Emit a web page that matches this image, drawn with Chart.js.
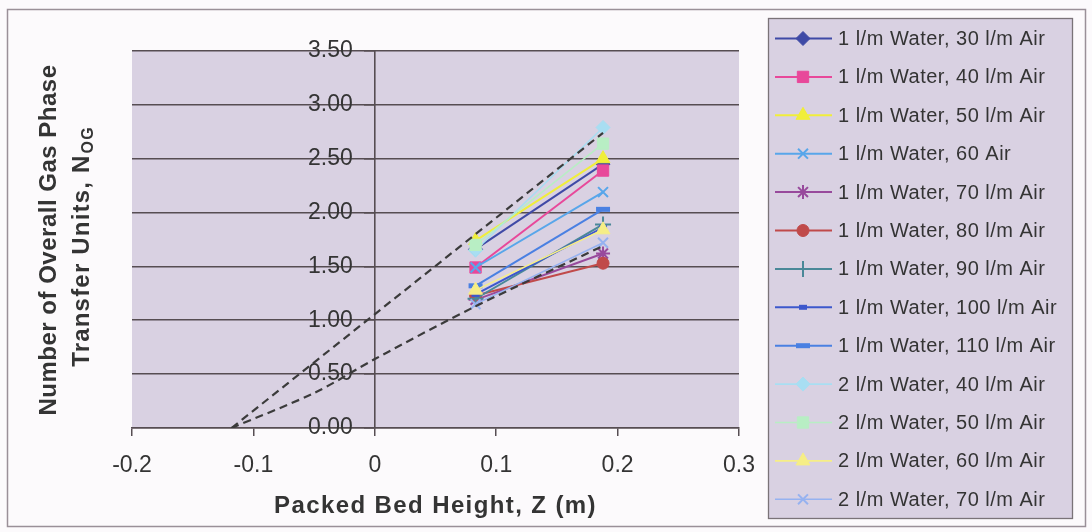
<!DOCTYPE html>
<html>
<head>
<meta charset="utf-8">
<script src="https://cdn.jsdelivr.net/npm/chart.js@4/dist/chart.umd.min.js"></script>
<style>
  html, body { margin: 0; padding: 0; background: #fcfafc; }
  #wrap { width: 1092px; height: 532px; position: relative; }
</style>
</head>
<body>
<div id="wrap"><canvas id="chart" width="1092" height="532"></canvas></div>
<script>
// Packed bed heights (m) at which N_OG was measured
const bedHeight = [0.083, 0.188];

// Number of overall gas phase transfer units, one array per flow condition
const water1_air30  = [1.66, 2.45];
const water1_air40  = [1.49, 2.39];
const water1_air50  = [1.74, 2.50];
const water1_air60  = [1.49, 2.19];
const water1_air70  = [1.19, 1.62];
const water1_air80  = [1.23, 1.53];
const water1_air90  = [1.20, 1.89];
const water1_air100 = [1.24, 1.86];
const water1_air110 = [1.32, 2.03];
const water2_air40  = [1.65, 2.79];
const water2_air50  = [1.70, 2.64];
const water2_air60  = [1.28, 1.84];
const water2_air70  = [1.15, 1.72];

const seriesLabels = [
  '1 l/m Water, 30 l/m Air', '1 l/m Water, 40 l/m Air', '1 l/m Water, 50 l/m Air',
  '1 l/m Water, 60 Air', '1 l/m Water, 70 l/m Air', '1 l/m Water, 80 l/m Air',
  '1 l/m Water, 90 l/m Air', '1 l/m Water, 100 l/m Air', '1 l/m Water, 110 l/m Air',
  '2 l/m Water, 40 l/m Air', '2 l/m Water, 50 l/m Air', '2 l/m Water, 60 l/m Air',
  '2 l/m Water, 70 l/m Air'
];
const seriesValues = [
  water1_air30, water1_air40, water1_air50, water1_air60, water1_air70,
  water1_air80, water1_air90, water1_air100, water1_air110,
  water2_air40, water2_air50, water2_air60, water2_air70
];

// Extrapolated trend lines back to N_OG = 0
const upperTrendZ = [-0.118, 0.188];
const upperTrendN = [0, 2.74];
const lowerTrendZ = [-0.118, -0.049, 0, 0.083, 0.188];
const lowerTrendN = [0, 0.33, 0.64, 1.13, 1.69];

// Axis tick labels
const xTickLabels = ['-0.2', '-0.1', '0', '0.1', '0.2', '0.3'];
const yTickLabels = ['0.00', '0.50', '1.00', '1.50', '2.00', '2.50', '3.00', '3.50'];

// Line / marker styles per series
const seriesStyles = [
  { color: '#3f4aa6', marker: 'rectRot',  r: 7,   lw: 2,   pw: 1 },
  { color: '#e8489a', marker: 'rect',     r: 8,   lw: 2,   pw: 1 },
  { color: '#f0ee3a', marker: 'triangle', r: 8,   lw: 2,   pw: 1 },
  { color: '#58a6ea', marker: 'crossRot', r: 7,   lw: 2,   pw: 2 },
  { color: '#984a9c', marker: 'star',     r: 7,   lw: 2,   pw: 2 },
  { color: '#c04a4a', marker: 'circle',   r: 6,   lw: 2,   pw: 1 },
  { color: '#4a8898', marker: 'cross',    r: 8,   lw: 2,   pw: 2 },
  { color: '#3d58cc', marker: 'line',     r: 4,   lw: 2,   pw: 5 },
  { color: '#4a80e2', marker: 'line',     r: 7,   lw: 2,   pw: 5 },
  { color: '#a8def2', marker: 'rectRot',  r: 7,   lw: 1.6, pw: 1 },
  { color: '#b8eec4', marker: 'rect',     r: 8,   lw: 1.6, pw: 1 },
  { color: '#f6ee86', marker: 'triangle', r: 8,   lw: 1.6, pw: 1 },
  { color: '#96b2f0', marker: 'crossRot', r: 7,   lw: 1.6, pw: 2 }
];

const gridColor = '#564d52';
const panelColor = '#d9d1e2';
const textColor = '#343434';
const yLabelGap = 22;   // distance from the y axis line to the right edge of its labels

const toPoints = (xs, ys) => xs.map((x, i) => ({ x: x, y: ys[i] }));

const datasets = seriesValues.map((vals, i) => {
  const s = seriesStyles[i];
  return {
    label: seriesLabels[i],
    data: toPoints(bedHeight, vals),
    showLine: true,
    borderColor: s.color,
    backgroundColor: s.color,
    borderWidth: s.lw,
    pointStyle: s.marker,
    pointRadius: s.r,
    pointHoverRadius: s.r,
    pointBackgroundColor: s.color,
    pointBorderColor: s.color,
    pointBorderWidth: s.pw,
    order: 100 - i,
    inLegend: true
  };
});

[[upperTrendZ, upperTrendN], [lowerTrendZ, lowerTrendN]].forEach(([zs, ns], k) => {
  datasets.push({
    label: k === 0 ? 'upper trend' : 'lower trend',
    data: toPoints(zs, ns),
    showLine: true,
    borderColor: '#3b3b3b',
    borderWidth: 2.2,
    borderDash: [8, 5],
    pointRadius: 0,
    tension: k === 0 ? 0 : 0.3,
    order: 0,
    inLegend: false
  });
});

// Legend box geometry
const legendBox = { left: 768, top: 18, right: 1072, bottom: 518 };
const legendRow0 = 38.5, legendRowGap = 38.4;

const framePlugin = {
  id: 'frame',
  beforeDraw(chart) {
    const ctx = chart.ctx;
    const a = chart.chartArea;

    // Move y tick labels off the axis line, to the left of the tick marks
    const ys = chart.scales.y;
    const items = ys.getLabelItems(a);
    if (!items._shifted) {
      items.forEach((it) => { it.options.translation[0] -= yLabelGap; });
      items._shifted = true;
    }

    ctx.save();
    ctx.fillStyle = '#fcfafc';
    ctx.fillRect(0, 0, chart.width, chart.height);
    ctx.strokeStyle = '#9a9098';
    ctx.lineWidth = 1.5;
    ctx.strokeRect(7.5, 9.5, 1078, 517);
    ctx.fillStyle = panelColor;
    ctx.fillRect(a.left, a.top, a.right - a.left, a.bottom - a.top);
    ctx.fillRect(legendBox.left, legendBox.top, legendBox.right - legendBox.left, legendBox.bottom - legendBox.top);
    ctx.strokeStyle = '#7a7378';
    ctx.lineWidth = 1.3;
    ctx.strokeRect(legendBox.left + 0.5, legendBox.top + 0.5, legendBox.right - legendBox.left, legendBox.bottom - legendBox.top);
    ctx.restore();
  },
  afterDraw(chart) {
    const ctx = chart.ctx;
    const a = chart.chartArea;
    ctx.save();

    // Legend entries: line sample, marker, label
    let row = 0;
    chart.data.datasets.forEach((ds) => {
      if (!ds.inLegend) return;
      const y = legendRow0 + row * legendRowGap;
      ctx.strokeStyle = ds.borderColor;
      ctx.lineWidth = ds.borderWidth;
      ctx.setLineDash([]);
      ctx.beginPath();
      ctx.moveTo(775, y);
      ctx.lineTo(832, y);
      ctx.stroke();
      ctx.fillStyle = ds.pointBackgroundColor;
      ctx.strokeStyle = ds.pointBorderColor;
      ctx.lineWidth = ds.pointBorderWidth;
      Chart.helpers.drawPoint(ctx, {
        pointStyle: ds.pointStyle,
        radius: ds.pointRadius,
        rotation: 0,
        borderWidth: ds.pointBorderWidth
      }, 803, y);
      ctx.fillStyle = textColor;
      ctx.font = '20px "Liberation Sans", Arial, sans-serif';
      if ('letterSpacing' in ctx) ctx.letterSpacing = '0.5px';
      ctx.textAlign = 'left';
      ctx.textBaseline = 'middle';
      ctx.fillText(ds.label, 838, y + 1);
      if ('letterSpacing' in ctx) ctx.letterSpacing = '0px';
      row++;
    });

    // X axis title
    ctx.fillStyle = textColor;
    ctx.font = 'bold 24px "Liberation Sans", Arial, sans-serif';
    if ('letterSpacing' in ctx) ctx.letterSpacing = '1.4px';
    ctx.textAlign = 'center';
    ctx.textBaseline = 'middle';
    ctx.fillText('Packed Bed Height, Z (m)', (a.left + a.right) / 2, 506);

    // Y axis title (two lines, rotated, with subscript)
    if ('letterSpacing' in ctx) ctx.letterSpacing = '0.5px';
    ctx.save();
    ctx.translate(56, 240);
    ctx.rotate(-Math.PI / 2);
    ctx.textAlign = 'center';
    ctx.textBaseline = 'alphabetic';
    ctx.font = 'bold 24px "Liberation Sans", Arial, sans-serif';
    ctx.fillText('Number of Overall Gas Phase', 0, 0);
    ctx.restore();

    if ('letterSpacing' in ctx) ctx.letterSpacing = '1.2px';
    ctx.save();
    ctx.translate(89, 247);
    ctx.rotate(-Math.PI / 2);
    ctx.textAlign = 'left';
    ctx.textBaseline = 'alphabetic';
    const mainFont = 'bold 24px "Liberation Sans", Arial, sans-serif';
    const subFont = 'bold 16px "Liberation Sans", Arial, sans-serif';
    const mainText = 'Transfer Units, N';
    const subText = 'OG';
    ctx.font = mainFont;
    const w1 = ctx.measureText(mainText).width;
    ctx.font = subFont;
    const w2 = ctx.measureText(subText).width;
    const x0 = -(w1 + w2) / 2;
    ctx.font = mainFont;
    ctx.fillText(mainText, x0, 0);
    ctx.font = subFont;
    ctx.fillText(subText, x0 + w1 + 1, 4);
    ctx.restore();

    if ('letterSpacing' in ctx) ctx.letterSpacing = '0px';
    ctx.restore();
  }
};

new Chart(document.getElementById('chart'), {
  type: 'scatter',
  data: { datasets: datasets },
  options: {
    responsive: false,
    animation: false,
    devicePixelRatio: 1,
    layout: { padding: { left: 132, right: 353, top: 51, bottom: 0 } },
    plugins: {
      legend: { display: false },
      tooltip: { enabled: false }
    },
    scales: {
      x: {
        type: 'linear',
        position: 'bottom',
        min: -0.2,
        max: 0.3,
        afterFit: (s) => { s.height = 104; },
        ticks: {
          stepSize: 0.1,
          autoSkip: false,
          maxRotation: 0,
          padding: 16,
          color: textColor,
          font: { family: '"Liberation Sans", Arial, sans-serif', size: 23 },
          callback: (v, i) => xTickLabels[i]
        },
        grid: {
          drawOnChartArea: false,
          drawTicks: true,
          tickLength: 8,
          color: gridColor,
          lineWidth: 1.5
        },
        border: { display: true, color: gridColor, width: 1.6 }
      },
      y: {
        type: 'linear',
        position: { x: 0 },
        min: 0,
        max: 3.5,
        afterFit: (s) => { s.width = 0; },
        ticks: {
          stepSize: 0.5,
          autoSkip: false,
          padding: 12,
          color: textColor,
          font: { family: '"Liberation Sans", Arial, sans-serif', size: 23 },
          callback: (v, i) => yTickLabels[i]
        },
        grid: {
          drawOnChartArea: true,
          drawTicks: true,
          tickLength: 10,
          color: gridColor,
          lineWidth: 1.6
        },
        border: { display: true, color: gridColor, width: 1.6 }
      }
    }
  },
  plugins: [framePlugin]
});
</script>
</body>
</html>
